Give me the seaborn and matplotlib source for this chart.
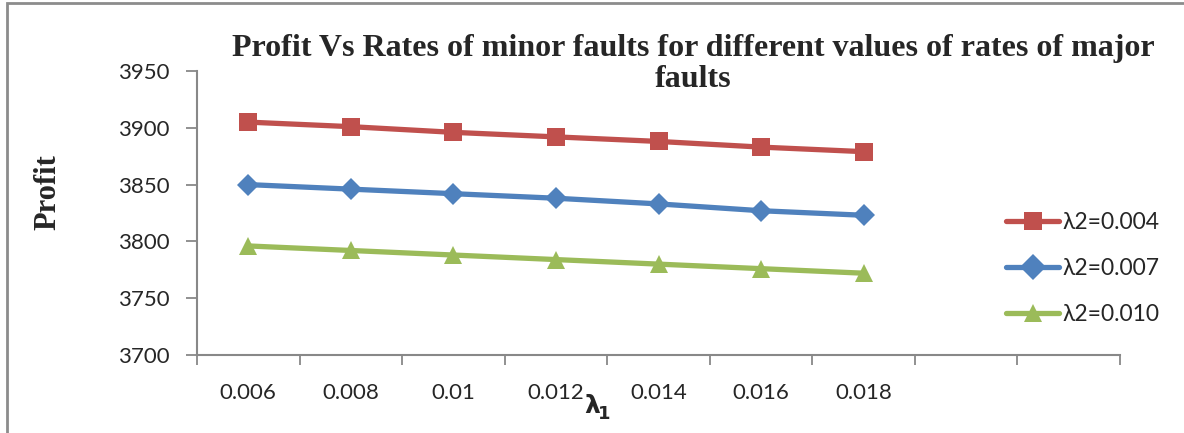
import numpy as np
import pandas as pd
import matplotlib
matplotlib.use("Agg")
import matplotlib.pyplot as plt
from matplotlib.patches import Rectangle
import seaborn as sns

# ---- data ----
lambda1 = ["0.006", "0.008", "0.01", "0.012", "0.014", "0.016", "0.018"]
series_names = ["λ2=0.004", "λ2=0.007", "λ2=0.010"]
profit_004 = [3905, 3901, 3896, 3892, 3888, 3883, 3879]
profit_007 = [3850, 3846, 3842, 3838, 3833, 3827, 3823]
profit_010 = [3796, 3792, 3788, 3784, 3780, 3776, 3772]
yticks = [3700, 3750, 3800, 3850, 3900, 3950]

colors = ["#C0504D", "#4F81BD", "#9BBB59"]
markers = ["s", "D", "^"]

sns.set_theme(style="white")
plt.rcParams["font.family"] = ["Lato", "DejaVu Sans"]

rows = []
for name, vals in zip(series_names, [profit_004, profit_007, profit_010]):
    for i, (cat, v) in enumerate(zip(lambda1, vals)):
        rows.append({"pos": i, "lambda1": cat, "Profit": v, "series": name})
df = pd.DataFrame(rows)

fig = plt.figure(figsize=(11.84, 4.33), dpi=100)
ax = fig.add_axes([197 / 1184, 1 - 355 / 433, (1120 - 197) / 1184, (355 - 71) / 433])

sns.lineplot(data=df, x="pos", y="Profit", hue="series", style="series",
             palette=dict(zip(series_names, colors)),
             markers=dict(zip(series_names, markers)),
             dashes=False, linewidth=3.8, markersize=13,
             markeredgewidth=0, ax=ax, legend=True)
for line, ms in zip(ax.lines, [13, 11, 13]):
    line.set_markersize(ms)

ax.set_xlim(-0.5, 8.5)
ax.set_ylim(3700, 3950)
ax.set_yticks(yticks)
ax.set_yticklabels([str(t) for t in yticks], fontsize=16)
ax.set_xticks(np.arange(-0.5, 9.0, 1.0))
ax.set_xticklabels([])
ax.set_xticks(np.arange(len(lambda1)), minor=True)
ax.set_xticklabels(lambda1, minor=True, fontsize=16)
ax.tick_params(axis="x", which="major", direction="out", length=7, width=1.3,
               color="#888888", bottom=True)
ax.tick_params(axis="x", which="minor", length=0, pad=20)
ax.tick_params(axis="y", direction="out", length=8, width=1.3, color="#888888",
               left=True, pad=12)
for s in ["top", "right"]:
    ax.spines[s].set_visible(False)
for s in ["left", "bottom"]:
    ax.spines[s].set_color("#888888")
    ax.spines[s].set_linewidth(1.5)
ax.set_xlabel("")
ax.set_ylabel("")

# legend
handles, labels = ax.get_legend_handles_labels()
leg = ax.legend(handles, labels, loc="center left", bbox_to_anchor=(0.877, 0.305),
                frameon=False, fontsize=16.5, handlelength=2.3, labelspacing=1.1,
                handletextpad=0.15, borderaxespad=0, borderpad=0)
for h in leg.legend_handles:
    h.set_linewidth(3.8)

# titles / labels
fig.text(693 / 1184, 1 - 64 / 433,
         "Profit Vs Rates of minor faults for different values of rates of major\nfaults",
         ha="center", va="center", fontsize=23, fontweight="bold",
         family="Liberation Serif", linespacing=1.08)
fig.text(48 / 1184, 1 - 192 / 433, "Profit", rotation=90, ha="center", va="center",
         fontsize=22, fontweight="bold", family="Liberation Serif")
fig.text(592 / 1184, 1 - 406 / 433, "λ", ha="center", va="center", fontsize=18,
         fontweight="bold", family="DejaVu Sans")
fig.text(604 / 1184, 1 - 414 / 433, "1", ha="center", va="center", fontsize=13,
         fontweight="bold", family="DejaVu Sans")

# outer chart border
fig.patches.append(Rectangle((7 / 1184, -0.2), 1.2, 1.2 - 3 / 433, transform=fig.transFigure,
                             fill=False, edgecolor="#8C8C8C", linewidth=2))

fig.savefig("out.png", dpi=100)
